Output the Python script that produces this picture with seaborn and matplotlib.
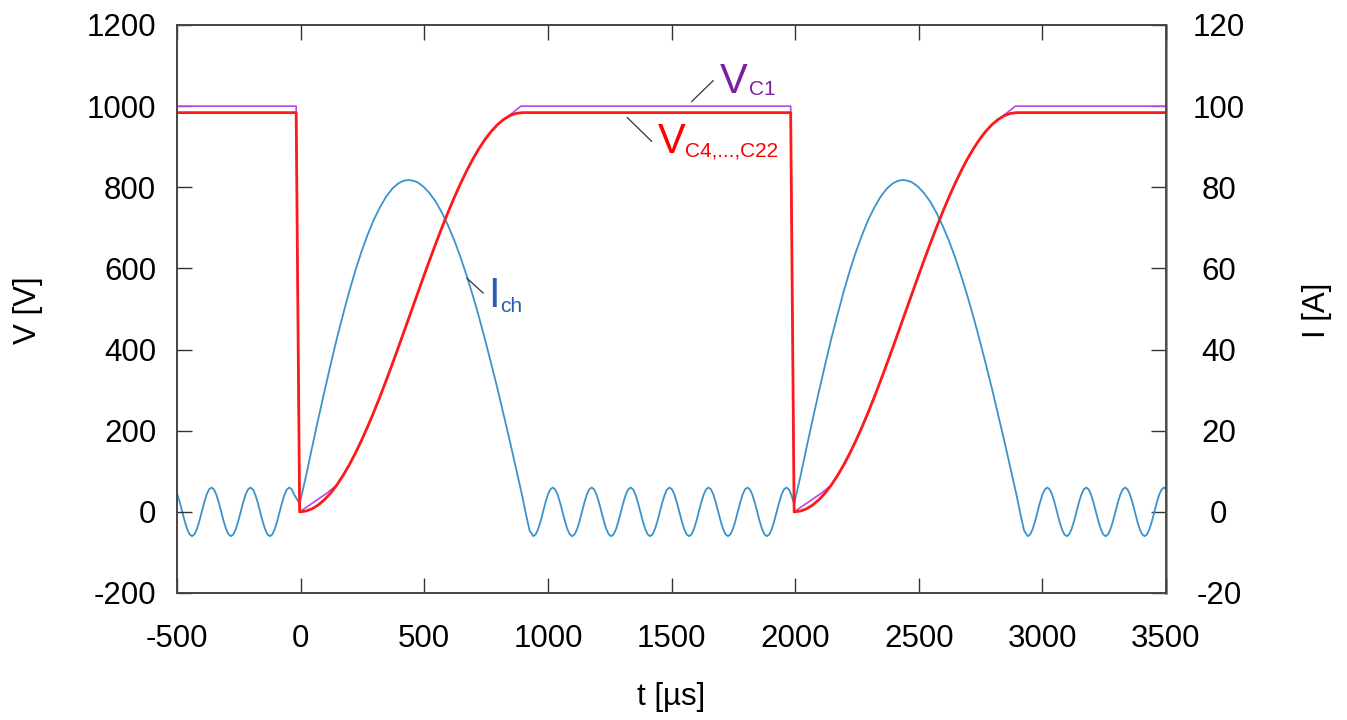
import numpy as np
import pandas as pd
import matplotlib
matplotlib.use("Agg")
import matplotlib.pyplot as plt
import seaborn as sns

# ---------------- data ----------------
# capacitor voltages: flat level, discharge drop, then recharge curve
drop_start = [-18, 1982]          # µs, start of the fast discharge
rise_start = [-4, 1996]           # µs, start of the recharge
v_c4_flat = 984
v_c1_flat = 1000
v_c4_rise_rel = [0, 25, 50, 75, 100, 125, 150, 175, 200, 225, 250, 275, 300,
                 325, 350, 375, 400, 425, 450, 475, 500, 525, 550, 575, 600,
                 625, 650, 675, 700, 725, 750, 775, 800, 825, 850, 875, 900]
v_c4_rise = [0, 1.9, 7.5, 16.8, 29.7, 46.1, 65.9, 89.0, 115.1, 144.1, 175.8,
             209.8, 246, 284.1, 323.7, 364.7, 406.6, 449.1, 492, 534.9, 577.4,
             619.3, 660.3, 699.9, 738, 774.2, 808.2, 839.9, 868.9, 895.0,
             918.1, 937.9, 954.3, 967.2, 976.5, 982.1, 984]
v_c1_rise_rel = [0, 110, 150, 175, 200, 225, 250, 275, 300, 325, 350, 375,
                 400, 425, 450, 475, 500, 525, 550, 575, 600, 625, 650, 675,
                 700, 725, 750, 775, 800, 895]
v_c1_rise = [0, 46, 65.9, 89.0, 115.1, 144.1, 175.8, 209.8, 246, 284.1,
             323.7, 364.7, 406.6, 449.1, 492, 534.9, 577.4, 619.3, 660.3,
             699.9, 738, 774.2, 808.2, 839.9, 868.9, 895.0, 918.1, 937.9,
             954.3, 1000]

# charging current: residual ringing + charging pulse
ring_step = 9.84375               # µs between samples of the ringing
ring_a_start = -518
ring_a = [6, 5.54, 4.24, 2.3, 0, -2.3, -4.24, -5.54, -6, -5.54, -4.24, -2.3, 0, 2.3, 4.24, 5.54,
          6, 5.54, 4.24, 2.3, 0, -2.3, -4.24, -5.54, -6, -5.54, -4.24, -2.3, 0, 2.3, 4.24, 5.54,
          6, 5.54, 4.24, 2.3, 0, -2.3, -4.24, -5.54, -6, -5.54, -4.24, -2.3, 0, 2.3, 4.24, 5.54,
          6, 5.54, 4.24]
ring_b_start = 941
ring_b = [-6, -5.54, -4.24, -2.3, 0, 2.3, 4.24, 5.54, 6, 5.54, 4.24, 2.3, 0, -2.3, -4.24, -5.54,
          -6, -5.54, -4.24, -2.3, 0, 2.3, 4.24, 5.54, 6, 5.54, 4.24, 2.3, 0, -2.3, -4.24, -5.54,
          -6, -5.54, -4.24, -2.3, 0, 2.3, 4.24, 5.54, 6, 5.54, 4.24, 2.3, 0, -2.3, -4.24, -5.54,
          -6, -5.54, -4.24, -2.3, 0, 2.3, 4.24, 5.54, 6, 5.54, 4.24, 2.3, 0, -2.3, -4.24, -5.54,
          -6, -5.54, -4.24, -2.3, 0, 2.3, 4.24, 5.54, 6, 5.54, 4.24, 2.3, 0, -2.3, -4.24, -5.54,
          -6, -5.54, -4.24, -2.3, 0, 2.3, 4.24, 5.54, 6, 5.54, 4.24, 2.3, 0, -2.3, -4.24, -5.54,
          -6, -5.54, -4.24, -2.3, 0, 2.3, 4.24, 5.54, 6, 5.54, 4.24]
ring_c_start = 2941
ring_c = [-6, -5.54, -4.24, -2.3, 0, 2.3, 4.24, 5.54, 6, 5.54, 4.24, 2.3, 0, -2.3, -4.24, -5.54,
          -6, -5.54, -4.24, -2.3, 0, 2.3, 4.24, 5.54, 6, 5.54, 4.24, 2.3, 0, -2.3, -4.24, -5.54,
          -6, -5.54, -4.24, -2.3, 0, 2.3, 4.24, 5.54, 6, 5.54, 4.24, 2.3, 0, -2.3, -4.24, -5.54,
          -6, -5.54, -4.24, -2.3, 0, 2.3, 4.24, 5.54, 6, 5.54]
pulse_rel = [0, 25, 50, 75, 100, 125, 150, 175, 200, 225, 250, 275, 300, 325,
             350, 375, 400, 420, 440, 460, 475, 500, 525, 550, 575, 600, 625,
             650, 675, 700, 725, 750, 775, 800, 825, 850, 875, 900, 915, 930]
pulse_i = [2.0, 8.6, 15.8, 22.8, 29.6, 36.2, 42.6, 48.5, 54.2, 59.4, 64.1,
           68.3, 72.0, 75.1, 77.7, 79.7, 81.0, 81.6, 81.8, 81.6, 81.3, 80.2,
           78.6, 76.5, 73.8, 70.6, 67.0, 62.9, 58.3, 53.4, 48.1, 42.4, 36.5,
           30.4, 24.0, 17.5, 10.8, 4.0, -0.5, -4.6]

x_ticks = [-500, 0, 500, 1000, 1500, 2000, 2500, 3000, 3500]
v_ticks = [-200, 0, 200, 400, 600, 800, 1000, 1200]
i_ticks = [-20, 0, 20, 40, 60, 80, 100, 120]


def voltage_trace(flat, rise_rel, rise_vals):
    t = [-500.0]
    v = [flat]
    for d, r in zip(drop_start, rise_start):
        t += [d]
        v += [flat]
        t += [r + x for x in rise_rel]
        v += list(rise_vals)
    t += [3500.0]
    v += [flat]
    return pd.DataFrame({"t": t, "v": v})


def ring(start, vals):
    return [start + ring_step * k for k in range(len(vals))], list(vals)


ta, ia = ring(ring_a_start, ring_a)
tb, ib = ring(ring_b_start, ring_b)
tc, ic = ring(ring_c_start, ring_c)
t_i = (ta + [rise_start[0] + r for r in pulse_rel] + tb
       + [rise_start[1] + r for r in pulse_rel] + tc)
i_i = ia + pulse_i + ib + pulse_i + ic
df_i = pd.DataFrame({"t": t_i, "i": i_i})
df_c1 = voltage_trace(v_c1_flat, v_c1_rise_rel, v_c1_rise)
df_c4 = voltage_trace(v_c4_flat, v_c4_rise_rel, v_c4_rise)

# ---------------- style ----------------
sns.set_style("white")
plt.rcParams["font.family"] = ["Liberation Sans", "DejaVu Sans"]
plt.rcParams["text.color"] = "black"
plt.rcParams["axes.labelcolor"] = "black"
plt.rcParams["xtick.color"] = "black"
plt.rcParams["ytick.color"] = "black"

W, H = 1347, 720
fig = plt.figure(figsize=(W / 100, H / 100), dpi=100)
ax = fig.add_axes([177 / W, 1 - 593 / H, (1166 - 177) / W, (593 - 25) / H])
ax2 = ax.twinx()
ax.set_zorder(ax2.get_zorder() + 1)
ax.patch.set_visible(False)

c_blue = "#3a93cc"
c_purple = "#b24ae8"
c_red = "#ff1a1a"

sns.lineplot(data=df_i, x="t", y="i", ax=ax2, color=c_blue, lw=1.3,
             sort=False, estimator=None)
sns.lineplot(data=df_c1, x="t", y="v", ax=ax, color=c_purple, lw=1.2,
             sort=False, estimator=None)
sns.lineplot(data=df_c4, x="t", y="v", ax=ax, color=c_red, lw=2.0,
             sort=False, estimator=None)

ax.set_xlim(-500, 3500)
ax.set_ylim(-200, 1200)
ax2.set_ylim(-20, 120)
ax.set_xticks(x_ticks)
ax.set_xticklabels([str(x) for x in x_ticks])
ax.set_yticks(v_ticks)
ax.set_yticklabels([str(v) for v in v_ticks])
ax2.set_yticks(i_ticks)
ax2.set_yticklabels([str(v) for v in i_ticks], ha="center")

fs = 22.5
tick_col = "#333333"
ax.tick_params(axis="x", direction="in", length=11, width=1.0, color=tick_col,
               labelcolor="black", labelsize=fs, pad=22, top=True, bottom=True)
ax.tick_params(axis="y", direction="in", length=11, width=1.0, color=tick_col,
               labelcolor="black", labelsize=fs, pad=15, left=True, right=False)
ax2.tick_params(axis="y", direction="in", length=11, width=1.0, color=tick_col,
                labelcolor="black", labelsize=fs, pad=38, right=True, left=False)

for a in (ax, ax2):
    for s in a.spines.values():
        s.set_color("#444444")
        s.set_linewidth(1.2)
ax2.spines["right"].set_color("#7a7a7a")
ax2.spines["right"].set_linewidth(1.8)

ax.set_xlabel("")
ax.set_ylabel("")
ax2.set_ylabel("")
ax.grid(False)
ax2.grid(False)

# axis titles
fig.text(671 / W, 1 - 697 / H, "t [µs]", fontsize=fs, ha="center", va="center")
fig.text(28 / W, 1 - 310 / H, "V [V]", fontsize=fs, ha="center", va="center",
         rotation=90)
fig.text(1317 / W, 1 - 310 / H, "I [A]", fontsize=fs, ha="center", va="center",
         rotation=90)

# ---------------- labels with leader lines ----------------
line_kw = dict(arrowstyle="-", color="#333333", lw=0.9, shrinkA=0, shrinkB=0)
ax.annotate("", xy=(1581, 1011), xytext=(1669, 1063), arrowprops=line_kw)
ax.annotate("", xy=(1321, 972), xytext=(1420, 913), arrowprops=line_kw)
ax2.annotate("", xy=(672, 57.6), xytext=(739, 53.9), arrowprops=line_kw)

big = 30
small = 15
ax.text(1696, 1033, "V", color="#7b1fa2", fontsize=big, ha="left", va="baseline")
ax.text(1812, 1028, "C1", color="#7b1fa2", fontsize=small, ha="left", va="baseline")
ax.text(1445, 885, "V", color="#ff0000", fontsize=big, ha="left", va="baseline")
ax.text(1554, 875, "C4,...,C22", color="#ff0000", fontsize=small, ha="left", va="baseline")
ax2.text(758, 50.5, "I", color="#2a5db0", fontsize=big, ha="left", va="baseline")
ax2.text(808, 49.3, "ch", color="#2a5db0", fontsize=small, ha="left", va="baseline")

fig.savefig("out.png", dpi=100)
